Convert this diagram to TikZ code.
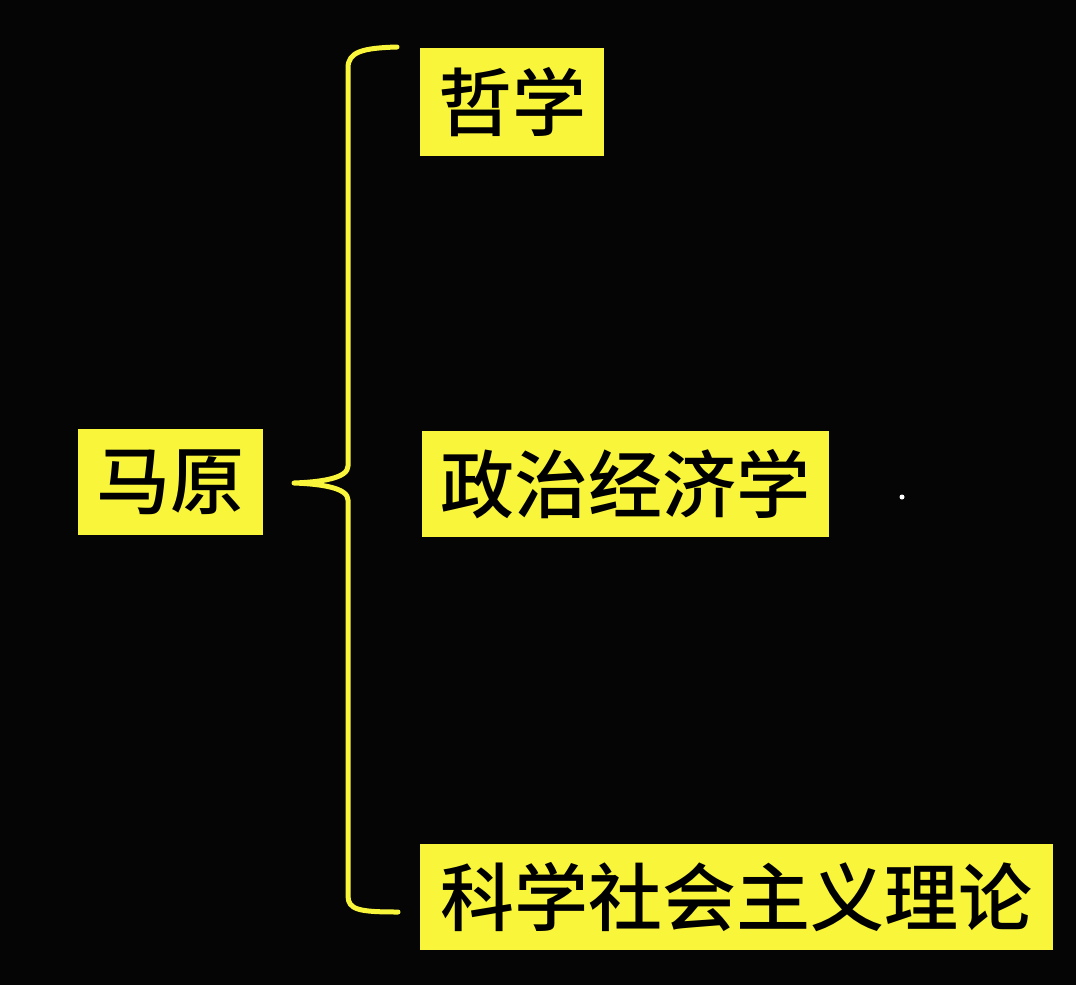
\documentclass[tikz,border=0pt]{standalone}
\usepackage{fontspec}
\newfontfamily\cjk{Noto Sans CJK SC}[UprightFont={* Medium}]
\definecolor{hl}{HTML}{F8F53A}
\definecolor{bg}{HTML}{050505}
\begin{document}
\begin{tikzpicture}[x=1pt,y=-1pt,
  box/.style={fill=hl,inner sep=0pt,text=black,font=\cjk\fontsize{74}{74}\selectfont,anchor=center},
  bracestyle/.style={draw=hl,line width=5pt,line cap=round,line join=round}]
\fill[bg] (0,0) rectangle (1076,985);
\useasboundingbox (0,0) rectangle (1076,985);
\node[box,minimum width=185pt,minimum height=106pt] (root) at (170.5,482) {马原};
\node[box,minimum width=184pt,minimum height=108pt] (zx) at (512,102) {哲学};
\node[box,minimum width=407pt,minimum height=106pt] (zz) at (625.5,484) {政治经济学};
\node[box,minimum width=633pt,minimum height=106pt] (kx) at (736.5,897) {科学社会主义理论};
\coordinate (tip) at (294,483);
\coordinate (top) at (397,47);
\coordinate (bot) at (398,912);
\draw[bracestyle] (top) .. controls (362,48) and (348,52) .. (348,68)
  -- (348,466) .. controls (348,478) and (322,482) .. (tip)
  .. controls (322,484) and (348,488) .. (348,500)
  -- (348,896) .. controls (348,910) and (360,912) .. (bot);
\fill[white] (902,497) circle (2.5pt);
\end{tikzpicture}
\end{document}
